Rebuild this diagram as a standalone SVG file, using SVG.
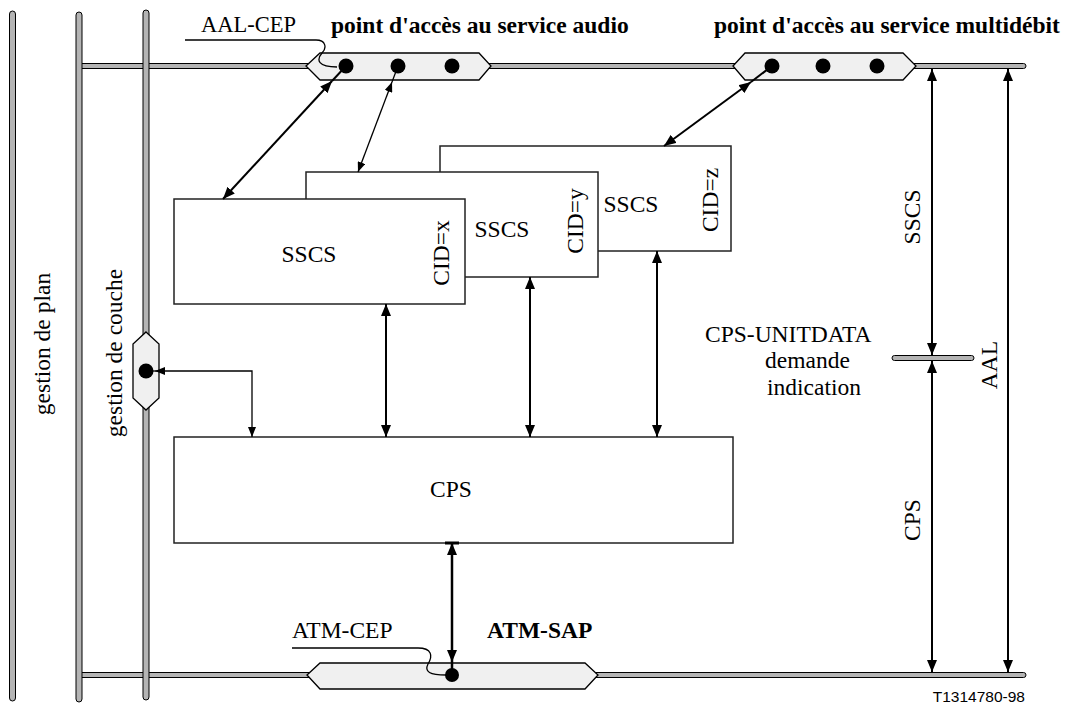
<svg xmlns="http://www.w3.org/2000/svg" width="1072" height="707" viewBox="0 0 1072 707">
<defs>
<style>
text{font-family:"Liberation Serif","Times New Roman",serif;font-size:23.5px;fill:#000}
.b{font-weight:bold}
.sans{font-family:"Liberation Sans",Arial,sans-serif;font-size:15.5px}
.bar{fill:#b4b4b4;stroke:#000;stroke-width:1}
.hex{fill:#f0f0f0;stroke:#000;stroke-width:1.3}
.box{fill:#fff;stroke:#222;stroke-width:1.5}
.dot{fill:#000}
.thick{stroke:#000;stroke-width:2;fill:none}
.thin{stroke:#000;stroke-width:1.3;fill:none}
.lead{stroke:#000;stroke-width:1.3;fill:none}
</style>
<marker id="ah" viewBox="0 0 12 10" refX="12" refY="5" markerWidth="12" markerHeight="10" markerUnits="userSpaceOnUse" orient="auto-start-reverse"><path d="M0,0 L12,5 L0,10 z" fill="#000"/></marker>
<marker id="as" viewBox="0 0 10 8" refX="10" refY="4" markerWidth="10" markerHeight="8" markerUnits="userSpaceOnUse" orient="auto-start-reverse"><path d="M0,0 L10,4 L0,8 z" fill="#000"/></marker>
</defs>
<rect width="1072" height="707" fill="#fff"/>

<g id="plans">
<rect class="bar" x="79" y="63.5" width="947" height="5" rx="2.5"/>
<rect class="bar" x="79" y="672.5" width="947" height="5" rx="2.5"/>
<rect class="bar" x="9.5" y="11" width="6" height="690" rx="3"/>
<rect class="bar" x="76" y="12" width="6" height="690" rx="3"/>
<rect class="bar" x="143" y="10" width="6" height="690" rx="3"/>
<text transform="translate(50,344) rotate(-90)" text-anchor="middle">gestion de plan</text>
<text transform="translate(122,353) rotate(-90)" text-anchor="middle">gestion de couche</text>
</g>

<g id="sap-audio">
<polygon class="hex" points="306,66 320,53 479,53 491,66 479,80 320,80"/>
<circle class="dot" cx="346" cy="66" r="7.5"/>
<circle class="dot" cx="398" cy="66" r="7.5"/>
<circle class="dot" cx="452" cy="66" r="7.5"/>
<text class="b" x="331" y="33">point d'accès au service audio</text>
</g>

<g id="sap-multi">
<polygon class="hex" points="733,66 745,53 903,53 916,66 903,80 745,80"/>
<circle class="dot" cx="772" cy="66" r="7.5"/>
<circle class="dot" cx="823" cy="66" r="7.5"/>
<circle class="dot" cx="877" cy="66" r="7.5"/>
<text class="b" x="714" y="33">point d'accès au service multidébit</text>
</g>

<g id="aal-cep">
<path class="lead" d="M185,40 H316 C326,40 327,48 322,53 C316,60 318,67 337,67"/>
<text x="201" y="32" style="font-size:22.5px">AAL-CEP</text>
</g>

<g id="lm-sap">
<polygon class="hex" points="146,332 159,344 159,398 146,410 133,398 133,344"/>
<circle class="dot" cx="146" cy="371" r="7.5"/>
</g>

<g id="sscs-z">
<rect class="box" x="440" y="146" width="291" height="105"/>
<text x="631" y="212" text-anchor="middle">SSCS</text>
<text transform="translate(718,200) rotate(-90)" text-anchor="middle">CID=z</text>
</g>
<g id="sscs-y">
<rect class="box" x="306" y="172" width="292" height="105"/>
<text x="502" y="237" text-anchor="middle">SSCS</text>
<text transform="translate(583,221) rotate(-90)" text-anchor="middle">CID=y</text>
</g>
<g id="sscs-x">
<rect class="box" x="174" y="199" width="291" height="105"/>
<text x="309" y="262" text-anchor="middle">SSCS</text>
<text transform="translate(449,253) rotate(-90)" text-anchor="middle">CID=x</text>
</g>

<g id="cps">
<rect class="box" x="174" y="437" width="559" height="106"/>
<text x="451" y="497" text-anchor="middle">CPS</text>
</g>

<g id="atm-sap">
<polygon class="hex" points="307,675 320,663 585,663 598,675 585,689 320,689"/>
<circle class="dot" cx="452" cy="675" r="7"/>
<text class="b" x="487" y="638">ATM-SAP</text>
</g>

<g id="atm-cep">
<path class="lead" d="M292,648 H418 C432,648 433,656 428,664 C424,672 430,675 446,675"/>
<text x="292" y="638">ATM-CEP</text>
</g>

<g id="cps-unitdata">
<rect class="bar" x="892" y="355.5" width="82" height="5" rx="2.5"/>
<text x="705" y="342">CPS-UNITDATA</text>
<text x="765" y="368">demande</text>
<text x="767" y="395">indication</text>
</g>

<g id="layer-labels">
<text transform="translate(920,217) rotate(-90)" text-anchor="middle">SSCS</text>
<text transform="translate(920,520) rotate(-90)" text-anchor="middle">CPS</text>
<text transform="translate(997,365) rotate(-90)" text-anchor="middle">AAL</text>
<text class="sans" x="1025" y="702" text-anchor="end">T1314780-98</text>
</g>

<g id="connectors">
<path class="thick" d="M346,66 L332,81"/>
<path class="thick" d="M332,81 L223,199" marker-start="url(#ah)" marker-end="url(#ah)"/>
<path class="thin" d="M398,66 L392,82"/>
<path class="thin" d="M392,82 L358,172" marker-start="url(#as)" marker-end="url(#as)"/>
<path class="thick" d="M772,66 L751,82"/>
<path class="thick" d="M751,82 L664,146" marker-start="url(#ah)" marker-end="url(#ah)"/>
<path class="thin" d="M146,371 H155"/>
<path class="thin" d="M155,371 H252 V437" marker-start="url(#as)" marker-end="url(#as)"/>
<path class="thick" d="M386,304 V437" marker-start="url(#ah)" marker-end="url(#ah)"/>
<path class="thick" d="M530,277 V437" marker-start="url(#ah)" marker-end="url(#ah)"/>
<path class="thick" d="M657,251 V437" marker-start="url(#ah)" marker-end="url(#ah)"/>
<path class="thick" d="M452,543 V662" style="stroke-width:2.5" marker-start="url(#ah)" marker-end="url(#ah)"/>
<path class="thick" d="M452,662 V675" style="stroke-width:2.5"/>
<path d="M445,543 H459" stroke="#000" stroke-width="3"/>
<path class="thick" d="M932,69 V355" marker-start="url(#ah)" marker-end="url(#ah)"/>
<path class="thick" d="M932,361 V672" marker-start="url(#ah)" marker-end="url(#ah)"/>
<path class="thick" d="M1008,69 V672" marker-start="url(#ah)" marker-end="url(#ah)"/>
</g>
</svg>
